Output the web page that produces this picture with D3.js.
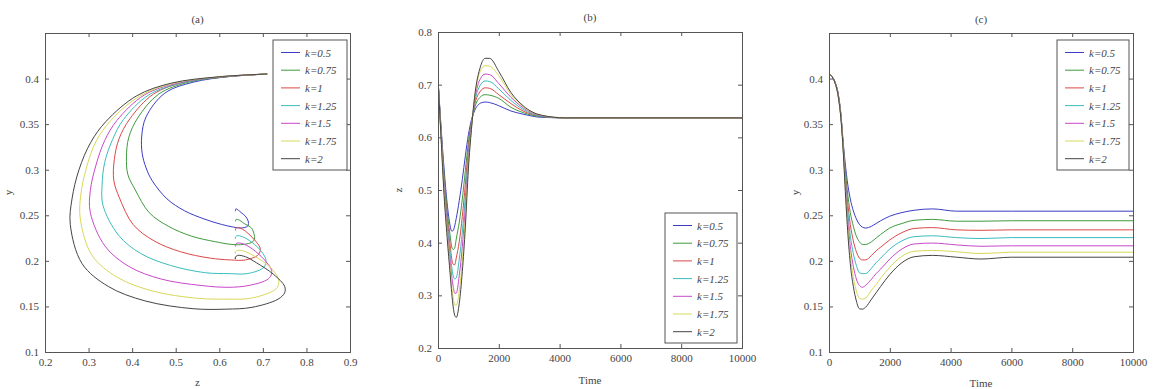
<!DOCTYPE html>
<html>
<head>
<meta charset="utf-8">
<script src="https://cdn.jsdelivr.net/npm/d3@7"></script>
<style>
  body { margin: 0; background: #fff; }
  svg, svg text { font-family: 'Liberation Serif', 'Times New Roman', Times, serif; }
</style>
</head>
<body>
<div id="viz"></div>
<script>
// shared time grid for all three panels
const TIME = [0, 100, 200, 300, 400, 450, 500, 550, 600, 700, 800, 900, 1000, 1100, 1200, 1400, 1550, 1700, 2000, 2400, 2800, 3400, 4200, 5000, 6000, 10000];

const K_LABELS = ['k=0.5', 'k=0.75', 'k=1', 'k=1.25', 'k=1.5', 'k=1.75', 'k=2'];

// z(t) for each k
const Z_K050 = [.710, .620, .540, .475, .432, .422, .423, .432, .446, .480, .520, .565, .605, .633, .650, .665, .667, .666, .660, .650, .644, .638, .637, .637, .637, .637];
const Z_K075 = [.710, .616, .530, .461, .413, .392, .387, .390, .407, .439, .483, .537, .591, .629, .655, .677, .681, .680, .674, .657, .647, .639, .637, .637, .637, .637];
const Z_K100 = [.710, .612, .520, .449, .395, .370, .359, .358, .371, .402, .450, .511, .579, .626, .660, .688, .694, .693, .681, .664, .650, .640, .637, .637, .637, .637];
const Z_K125 = [.710, .609, .512, .438, .380, .355, .337, .331, .333, .369, .420, .488, .568, .623, .664, .700, .707, .706, .692, .670, .653, .640, .637, .637, .637, .637];
const Z_K150 = [.710, .605, .504, .428, .365, .337, .317, .304, .304, .338, .392, .467, .558, .620, .668, .712, .720, .719, .702, .676, .656, .641, .637, .637, .637, .637];
const Z_K175 = [.710, .602, .496, .418, .351, .317, .295, .282, .281, .308, .366, .446, .548, .617, .672, .727, .736, .735, .717, .681, .658, .642, .637, .637, .637, .637];
const Z_K200 = [.710, .600, .490, .410, .340, .305, .278, .262, .258, .285, .345, .430, .540, .615, .675, .735, .750, .750, .725, .685, .660, .642, .637, .637, .637, .637];

// y(t) for each k
const Y_K050 = [.405, .402, .396, .384, .358, .337, .318, .302, .288, .268, .255, .246, .240, .237, .236, .238, .241, .244, .249, .253, .2555, .257, .2545, .2545, .2545, .2545];
const Y_K075 = [.405, .402, .396, .383, .357, .335, .314, .295, .278, .253, .238, .227, .221, .218, .218, .221, .225, .229, .236, .241, .2445, .2455, .2435, .2435, .244, .244];
const Y_K100 = [.405, .402, .396, .383, .356, .334, .311, .288, .269, .240, .222, .210, .203, .201, .201, .206, .211, .215, .223, .231, .2355, .2365, .234, .2335, .234, .234];
const Y_K125 = [.405, .402, .395, .382, .355, .333, .308, .283, .261, .228, .208, .195, .187, .186, .186, .192, .198, .203, .213, .222, .2265, .2275, .2255, .2245, .2255, .2255];
const Y_K150 = [.405, .402, .395, .382, .354, .332, .305, .277, .253, .216, .194, .180, .173, .171, .173, .180, .186, .191, .202, .213, .2185, .2195, .2175, .216, .2165, .2165];
const Y_K175 = [.405, .402, .395, .381, .354, .331, .302, .272, .246, .206, .182, .167, .159, .158, .159, .168, .174, .181, .193, .205, .2105, .2115, .210, .208, .2095, .2095];
const Y_K200 = [.405, .402, .395, .381, .353, .330, .300, .268, .240, .197, .172, .156, .1475, .147, .149, .158, .165, .172, .185, .198, .2045, .206, .204, .202, .204, .204];

const Z_SERIES = [Z_K050, Z_K075, Z_K100, Z_K125, Z_K150, Z_K175, Z_K200];
const Y_SERIES = [Y_K050, Y_K075, Y_K100, Y_K125, Y_K150, Y_K175, Y_K200];

const X_TICKS_A = [0.2, 0.3, 0.4, 0.5, 0.6, 0.7, 0.8, 0.9];
const Y_TICKS_AC = [0.1, 0.15, 0.2, 0.25, 0.3, 0.35, 0.4];
const TIME_TICKS = [0, 2000, 4000, 6000, 8000, 10000];
const Y_TICKS_B = [0.2, 0.3, 0.4, 0.5, 0.6, 0.7, 0.8];

const COLORS = ['#3c3cc4', '#3f9a3f', '#dc4848', '#3cbcbc', '#c848c8', '#d8d85a', '#444444'];
const FONT = "'Liberation Serif', 'Times New Roman', Times, serif";

const W = 1155, H = 389;
const svg = d3.select('#viz').append('svg')
  .attr('width', W)
  .attr('height', H);

function drawPanel(p) {
  const x = d3.scaleLinear().domain(p.xDomain).range([p.left, p.right]);
  const y = d3.scaleLinear().domain(p.yDomain).range([p.bottom, p.top]);
  const g = svg.append('g');

  g.append('clipPath').attr('id', 'clip-' + p.id)
    .append('rect')
    .attr('x', p.left).attr('y', p.top)
    .attr('width', p.right - p.left).attr('height', p.bottom - p.top);

  // curves
  const lines = g.append('g').attr('clip-path', `url(#clip-${p.id})`);
  d3.range(7).forEach(i => {
    const pts = TIME.map((t, j) => p.point(t, j, i));
    lines.append('path')
      .attr('fill', 'none')
      .attr('stroke', COLORS[i])
      .attr('stroke-width', 1)
      .attr('d', d3.line()
        .x(d => x(d[0]))
        .y(d => y(d[1]))
        .curve(p.curve)(pts));
  });

  // axes: MATLAB style box, ticks pointing inward on all sides
  const tickLen = 4;
  const axes = [
    g.append('g').attr('transform', `translate(0,${p.bottom})`)
      .call(d3.axisBottom(x).tickValues(p.xTicks).tickSize(-tickLen).tickPadding(6).tickFormat(p.xFmt)),
    g.append('g').attr('transform', `translate(0,${p.top})`)
      .call(d3.axisTop(x).tickValues(p.xTicks).tickSize(-tickLen).tickFormat('')),
    g.append('g').attr('transform', `translate(${p.left},0)`)
      .call(d3.axisLeft(y).tickValues(p.yTicks).tickSize(-tickLen).tickPadding(6).tickFormat(d3.format('~g'))),
    g.append('g').attr('transform', `translate(${p.right},0)`)
      .call(d3.axisRight(y).tickValues(p.yTicks).tickSize(-tickLen).tickFormat(''))
  ];
  axes.forEach(a => a.attr('font-family', FONT).attr('font-size', 11));

  g.selectAll('.domain').attr('stroke', '#555');
  g.selectAll('.tick line').attr('stroke', '#555');
  g.selectAll('.tick text').attr('fill', '#444');

  // titles
  const tx = (p.left + p.right) / 2;
  g.append('text').attr('x', tx).attr('y', p.titleY)
    .attr('text-anchor', 'middle').attr('font-size', 11).attr('fill', '#444')
    .text(p.title);
  g.append('text').attr('x', tx).attr('y', p.xLabelY)
    .attr('text-anchor', 'middle').attr('font-size', 11).attr('fill', '#444')
    .text(p.xLabel);
  g.append('text')
    .attr('transform', `translate(${p.yLabelX},${(p.top + p.bottom) / 2}) rotate(-90)`)
    .attr('text-anchor', 'middle').attr('font-size', 11).attr('fill', '#444')
    .text(p.yLabel);

  // legend
  const lg = g.append('g').attr('transform', `translate(${p.legend.x},${p.legend.y})`);
  lg.append('rect')
    .attr('width', p.legend.w).attr('height', p.legend.h)
    .attr('fill', '#fff').attr('stroke', '#555').attr('stroke-width', 1);
  K_LABELS.forEach((lab, i) => {
    const ry = 12.5 + i * 17.7;
    lg.append('line')
      .attr('x1', 8).attr('x2', 27).attr('y1', ry).attr('y2', ry)
      .attr('stroke', COLORS[i]).attr('stroke-width', 1);
    lg.append('text')
      .attr('x', 32).attr('y', ry + 4)
      .attr('font-size', 11).attr('font-style', 'italic').attr('fill', '#444')
      .text(lab);
  });
}

const timeFmt = d3.format('d');

drawPanel({
  id: 'a', left: 45, right: 350, top: 33, bottom: 352,
  xDomain: [0.2, 0.9], yDomain: [0.1, 0.45],
  xTicks: X_TICKS_A, yTicks: Y_TICKS_AC, xFmt: d3.format('~g'),
  point: (t, j, i) => [Z_SERIES[i][j], Y_SERIES[i][j]],
  curve: d3.curveCatmullRom.alpha(0.5),
  title: '(a)', titleY: 23, xLabel: 'z', xLabelY: 386, yLabel: 'y', yLabelX: 12,
  legend: { x: 273, y: 40, w: 74, h: 130 }
});

drawPanel({
  id: 'b', left: 438, right: 742, top: 32, bottom: 348,
  xDomain: [0, 10000], yDomain: [0.2, 0.8],
  xTicks: TIME_TICKS, yTicks: Y_TICKS_B, xFmt: timeFmt,
  point: (t, j, i) => [t, Z_SERIES[i][j]],
  curve: d3.curveMonotoneX,
  title: '(b)', titleY: 21, xLabel: 'Time', xLabelY: 384, yLabel: 'z', yLabelX: 402,
  legend: { x: 665, y: 213, w: 72, h: 130 }
});

drawPanel({
  id: 'c', left: 829, right: 1133, top: 33, bottom: 352,
  xDomain: [0, 10000], yDomain: [0.1, 0.45],
  xTicks: TIME_TICKS, yTicks: Y_TICKS_AC, xFmt: timeFmt,
  point: (t, j, i) => [t, Y_SERIES[i][j]],
  curve: d3.curveMonotoneX,
  title: '(c)', titleY: 23, xLabel: 'Time', xLabelY: 387, yLabel: 'y', yLabelX: 799,
  legend: { x: 1057, y: 40, w: 72, h: 130 }
});
</script>
</body>
</html>
